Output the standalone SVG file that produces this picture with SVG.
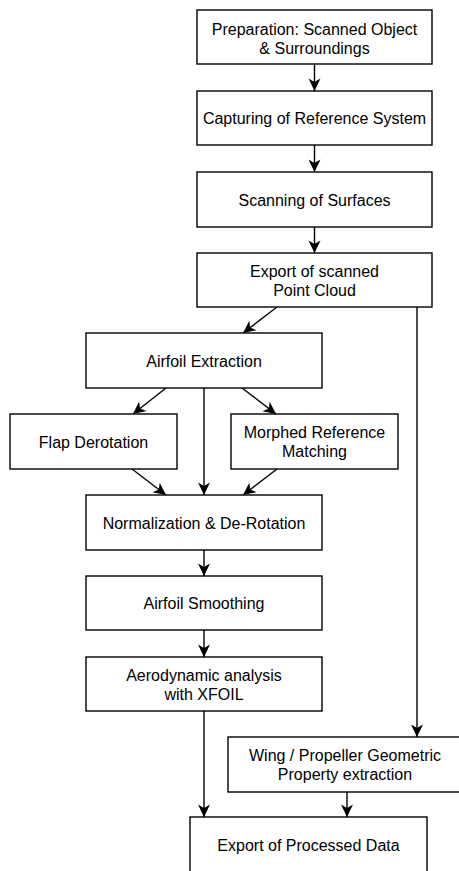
<svg xmlns="http://www.w3.org/2000/svg" width="459" height="871" viewBox="0 0 459 871">
<style>
.box{fill:#fff;stroke:#000;stroke-width:1.4}
.lbl{font-family:"Liberation Sans",Arial,sans-serif;font-size:16px;fill:#000;text-anchor:middle}
.edge{fill:none;stroke:#000;stroke-width:1.4;marker-end:url(#arr)}
</style>
<defs>
<marker id="arr" markerUnits="userSpaceOnUse" markerWidth="14" markerHeight="13" viewBox="0 0 14 13" refX="13" refY="6.5" orient="auto">
<path d="M0.5,0.5 L13,6.5 L0.5,12.5 L4,6.5 Z" fill="#000"/>
</marker>
</defs>
<rect width="459" height="871" fill="#fff"/>
<g id="connectors">
<line class="edge" x1="314.5" y1="64" x2="314.5" y2="91"/>
<line class="edge" x1="314.5" y1="145" x2="314.5" y2="172"/>
<line class="edge" x1="314.5" y1="227" x2="314.5" y2="253"/>
<line class="edge" x1="277" y1="307" x2="243" y2="333"/>
<line class="edge" x1="166" y1="388" x2="133" y2="414"/>
<line class="edge" x1="204" y1="388" x2="204" y2="495"/>
<line class="edge" x1="242" y1="388" x2="276" y2="414"/>
<line class="edge" x1="132" y1="469" x2="166" y2="495"/>
<line class="edge" x1="277" y1="469" x2="243" y2="495"/>
<line class="edge" x1="204" y1="550" x2="204" y2="576"/>
<line class="edge" x1="204" y1="630" x2="204" y2="657"/>
<line class="edge" x1="204" y1="711" x2="204" y2="817"/>
<line class="edge" x1="417" y1="307" x2="417" y2="737"/>
<line class="edge" x1="347" y1="792" x2="347" y2="817"/>
</g>
<g id="n1"><rect class="box" x="197" y="10" width="235" height="54"/><text class="lbl" x="314.5" y="34.5">Preparation: Scanned Object</text><text class="lbl" x="314.5" y="53.5">&amp; Surroundings</text></g>
<g id="n2"><rect class="box" x="197" y="91" width="235" height="54"/><text class="lbl" x="314.5" y="124">Capturing of Reference System</text></g>
<g id="n3"><rect class="box" x="197" y="172" width="235" height="55"/><text class="lbl" x="314.5" y="205.5">Scanning of Surfaces</text></g>
<g id="n4"><rect class="box" x="197" y="253" width="235" height="54"/><text class="lbl" x="314.5" y="276.5">Export of scanned</text><text class="lbl" x="314.5" y="295.5">Point Cloud</text></g>
<g id="n5"><rect class="box" x="86" y="333" width="236" height="55"/><text class="lbl" x="204" y="366.5">Airfoil Extraction</text></g>
<g id="n6"><rect class="box" x="10" y="414" width="167" height="55"/><text class="lbl" x="93.5" y="447.5">Flap Derotation</text></g>
<g id="n7"><rect class="box" x="231" y="414" width="167" height="55"/><text class="lbl" x="314.5" y="438">Morphed Reference</text><text class="lbl" x="314.5" y="457">Matching</text></g>
<g id="n8"><rect class="box" x="86" y="495" width="236" height="55"/><text class="lbl" x="204" y="528.5">Normalization &amp; De-Rotation</text></g>
<g id="n9"><rect class="box" x="86" y="576" width="236" height="54"/><text class="lbl" x="204" y="609">Airfoil Smoothing</text></g>
<g id="n10"><rect class="box" x="86" y="657" width="236" height="54"/><text class="lbl" x="204" y="680.5">Aerodynamic analysis</text><text class="lbl" x="204" y="699.5">with XFOIL</text></g>
<g id="n11"><rect class="box" x="228" y="737" width="238" height="55"/><text class="lbl" x="345" y="761">Wing / Propeller Geometric</text><text class="lbl" x="345" y="780">Property extraction</text></g>
<g id="n12"><rect class="box" x="190" y="817" width="237" height="60"/><text class="lbl" x="308.5" y="851">Export of Processed Data</text></g>
</svg>
